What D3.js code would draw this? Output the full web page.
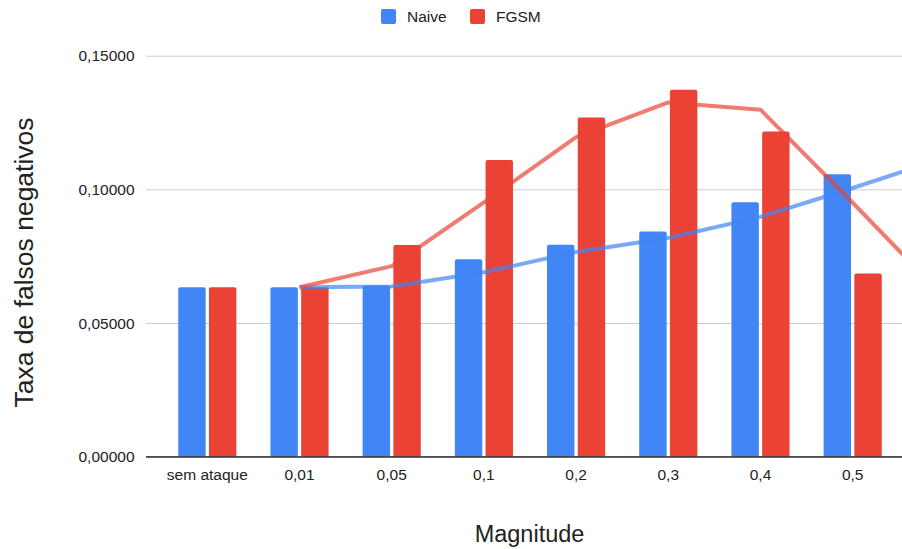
<!DOCTYPE html>
<html>
<head>
<meta charset="utf-8">
<script src="https://cdn.jsdelivr.net/npm/d3@7"></script>
<style>
  html, body { margin: 0; padding: 0; background: #fff; }
  svg { display: block; font-family: "Liberation Sans", Arial, sans-serif; }
</style>
</head>
<body>
<svg id="chart" width="902" height="549"></svg>
<script>
// ---- data ----
const categories = ["sem ataque", "0,01", "0,05", "0,1", "0,2", "0,3", "0,4", "0,5"];
const seriesNames = ["Naive", "FGSM"];
const naiveValues = [0.0634, 0.0634, 0.0640, 0.0739, 0.0793, 0.0842, 0.0952, 0.1057];
const fgsmValues  = [0.0634, 0.0634, 0.0792, 0.1110, 0.1269, 0.1373, 0.1216, 0.0685];
// moving-average trend lines (start at "0,01"), plus the value where each line leaves the plot on the right
const trendCategories = ["0,01", "0,05", "0,1", "0,2", "0,3", "0,4", "0,5"];
const naiveTrend = [0.0634, 0.0637, 0.0690, 0.0766, 0.0818, 0.0897, 0.1005];
const fgsmTrend  = [0.0634, 0.0713, 0.0951, 0.1195, 0.1325, 0.1298, 0.0950];
const naiveTrendEnd = 0.1080;
const fgsmTrendEnd  = 0.0713;
const yTicks = [0, 0.05, 0.10, 0.15];
const yTickLabels = ["0,00000", "0,05000", "0,10000", "0,15000"];
const xTitle = "Magnitude";
const yTitle = "Taxa de falsos negativos";
const colors = { Naive: "#4285F4", FGSM: "#EA4335" };
const trendColors = { Naive: "#4285F4", FGSM: "#EA4335" };

// ---- layout ----
const svg = d3.select("#chart");
const plot = { left: 146, right: 914, top: 55.7, bottom: 456.7 };

const x = d3.scaleBand().domain(categories)
  .range([plot.left, plot.right]).paddingInner(0).paddingOuter(0.165);
const xSub = d3.scaleBand().domain(seriesNames)
  .range([0, x.bandwidth()]).paddingInner(0.107).paddingOuter(0.554);
const y = d3.scaleLinear().domain([0, 0.15]).range([plot.bottom, plot.top]);

// gridlines
const yAxis = d3.axisLeft(y).tickValues(yTicks)
  .tickFormat((d, i) => yTickLabels[i])
  .tickSize(-(plot.right - plot.left)).tickPadding(12);
const gy = svg.append("g").attr("transform", `translate(${plot.left},0)`).call(yAxis);
gy.select(".domain").remove();
gy.selectAll(".tick line").attr("stroke", "#cccccc").attr("stroke-width", 1)
  .attr("stroke", d => d === 0 ? "#333333" : "#cccccc");
gy.selectAll(".tick text").attr("fill", "#222").style("font-size", "15.5px")
  .attr("x", -11.5);

// bars
function topRounded(x0, y0, w, h, r) {
  r = Math.min(r, h, w / 2);
  return `M${x0},${y0 + h}V${y0 + r}Q${x0},${y0} ${x0 + r},${y0}H${x0 + w - r}Q${x0 + w},${y0} ${x0 + w},${y0 + r}V${y0 + h}Z`;
}
const barData = [];
categories.forEach((c, i) => {
  barData.push({ cat: c, s: "Naive", v: naiveValues[i] });
  barData.push({ cat: c, s: "FGSM", v: fgsmValues[i] });
});
svg.append("g").selectAll("path").data(barData).join("path")
  .attr("d", d => {
    const bx = x(d.cat) + xSub(d.s);
    const by = y(d.v);
    return topRounded(bx, by, xSub.bandwidth(), y(0) - by, 2);
  })
  .attr("fill", d => colors[d.s]);

// baseline on top
svg.append("line").attr("x1", plot.left).attr("x2", plot.right)
  .attr("y1", y(0)).attr("y2", y(0)).attr("stroke", "#333").attr("stroke-width", 1);

// trend lines
function trendPoints(vals, endVal) {
  const pts = trendCategories.map((c, i) => [x(c) + x.bandwidth() / 2, y(vals[i])]);
  pts.push([plot.right, y(endVal)]);
  return pts;
}
const line = d3.line();
[["Naive", naiveTrend, naiveTrendEnd], ["FGSM", fgsmTrend, fgsmTrendEnd]].forEach(([s, vals, endV]) => {
  svg.append("path").attr("d", line(trendPoints(vals, endV)))
    .attr("fill", "none").attr("stroke", trendColors[s])
    .attr("stroke-opacity", 0.7).attr("stroke-width", 4)
    .attr("stroke-linejoin", "round");
});

// x labels
svg.append("g").selectAll("text").data(categories).join("text")
  .attr("x", d => x(d) + x.bandwidth() / 2).attr("y", 480)
  .attr("text-anchor", "middle").attr("fill", "#222").style("font-size", "15.5px")
  .text(d => d);

// axis titles
svg.append("text").attr("x", 529.5).attr("y", 541.7).attr("text-anchor", "middle")
  .attr("fill", "#222").style("font-size", "23.5px").text(xTitle);
svg.append("text").attr("transform", "translate(33,262.5) rotate(-90)")
  .attr("text-anchor", "middle").attr("fill", "#222").style("font-size", "26.5px").text(yTitle);

// legend
const legendItems = [{ s: "Naive", x: 381 }, { s: "FGSM", x: 470 }];
const lg = svg.append("g");
legendItems.forEach(it => {
  lg.append("rect").attr("x", it.x).attr("y", 9).attr("width", 15).attr("height", 15)
    .attr("rx", 2).attr("fill", colors[it.s]);
  lg.append("text").attr("x", it.x + 26).attr("y", 22.3).attr("fill", "#222")
    .style("font-size", "15.5px").text(it.s);
});
</script>
</body>
</html>
